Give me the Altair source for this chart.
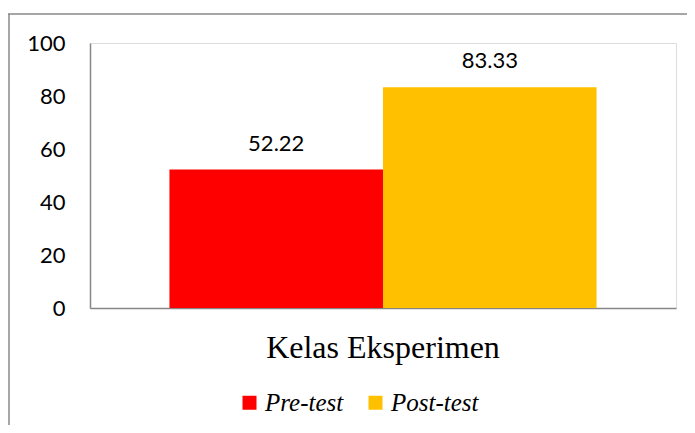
import altair as alt
import pandas as pd

categories = ["Kelas Eksperimen", "Kelas Eksperimen"]
series = ["Pre-test", "Post-test"]
values = [52.22, 83.33]
y_ticks = [0, 20, 40, 60, 80, 100]
colors = ["#FF0000", "#FFC000"]

SERIF = "Liberation Serif"

df = pd.DataFrame({"kelas": categories, "tes": series, "nilai": values})
frame_df = pd.DataFrame({"k": [0]})

x_enc = alt.X("kelas:N", title=None,
              scale=alt.Scale(paddingOuter=0.186, paddingInner=0),
              axis=alt.Axis(labelAngle=0, ticks=False, domainColor="#868686",
                            domainWidth=1.5, labelFont=SERIF, labelLimit=0,
                            labelFontSize=32, labelColor="#000000",
                            labelBaseline="alphabetic", labelPadding=49))
xo_enc = alt.XOffset("tes:N", sort=series, scale=alt.Scale(paddingInner=0, paddingOuter=0))

bars = alt.Chart(df).mark_bar().encode(
    x=x_enc,
    xOffset=xo_enc,
    y=alt.Y("nilai:Q", title=None,
            scale=alt.Scale(domain=[0, 100], nice=False),
            axis=alt.Axis(values=y_ticks, ticks=False, grid=False,
                          domainColor="#868686", domainWidth=1.5,
                          labelFont="Lato", labelFontSize=22,
                          labelColor="#000000", labelPadding=25)),
    color=alt.Color("tes:N", sort=series, title=None,
                    scale=alt.Scale(domain=series, range=colors),
                    legend=alt.Legend(orient="none", legendX=147, legendY=347,
                                      direction="horizontal",
                                      symbolType="square", symbolSize=196,
                                      symbolStrokeWidth=0, symbolOpacity=1,
                                      labelFont=SERIF,
                                      labelFontStyle="italic", labelFontSize=25,
                                      labelColor="#000000", labelOffset=3,
                                      labelLimit=0, columnPadding=19)),
)

labels = alt.Chart(df).mark_text(dy=-26, baseline="middle", font="Lato",
                                 fontSize=22, color="#000000").encode(
    x=alt.X("kelas:N"),
    xOffset=alt.XOffset("tes:N", sort=series),
    y=alt.Y("nilai:Q"),
    text=alt.Text("nilai:Q", format=".2f"),
)

top_line = alt.Chart(frame_df).mark_rule(color="#888888", strokeWidth=1.5).encode(
    x=alt.value(-82), x2=alt.value(700), y=alt.value(-29))
left_line = alt.Chart(frame_df).mark_rule(color="#888888", strokeWidth=1.5).encode(
    x=alt.value(-81), y=alt.value(-29), y2=alt.value(420))

chart = alt.layer(bars, labels, top_line, left_line).properties(
    width=586, height=265,
    autosize=alt.AutoSizeParams(type="none"),
    padding={"left": 82, "top": 35, "right": 11, "bottom": 117},
).configure_view(stroke=None).configure(background="#FFFFFF")

chart.save("out.html", embed_options={"renderer": "svg", "actions": False})
